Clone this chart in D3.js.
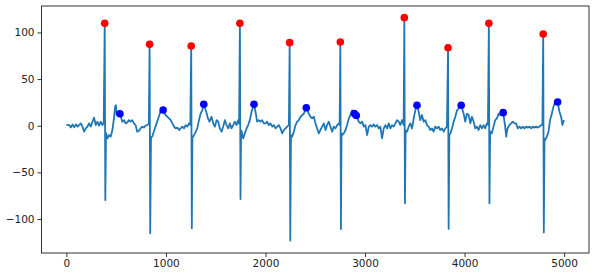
<!DOCTYPE html>
<html>
<head>
<meta charset="utf-8">
<script src="https://cdn.jsdelivr.net/npm/d3@7"></script>
<style>
  html, body { margin: 0; padding: 0; background: #fff; }
  svg { display: block; }
  text { font-family: "DejaVu Sans", sans-serif; }
</style>
</head>
<body>
<svg id="chart" width="598" height="276"></svg>
<script>
// ECG trace: [sample index, amplitude]
const ecgPoints = [
  [0,1],[28,0.7],[45,-1.8],[62,1.4],[78,-1.8],[95,1.4],[112,-1],[128,0.7],[145,2.5],[162,-1],[178,-6.4],[195,-2.9],[212,-1],[228,2.5],[245,-1],[262,4.3],[278,8.6],[295,0.7],[312,4.3],[328,0],[345,4.3],[362,0.7],[375,3],
  [385,109.7],[391,-79.6],
  [398,-8],[412,-13.6],[428,-10],[445,-11.8],[462,-4.6],[478,7.9],[490,20.6],[497,22],[505,12],[520,11],[538,12.9],[562,4.3],[580,6],[595,2.5],[612,3.5],[628,6],[645,4.3],[662,6],[678,2.5],[695,0.7],[712,-6.4],[728,-5.7],[745,-2.9],[762,-1],[778,-2],[795,0],[812,0.7],[828,2],
  [836,87.2],[842,-115.3],
  [850,-12],[862,-11.8],[878,-6.4],[895,-1],[912,4.3],[928,9.6],[945,15],[972,16.8],[995,11.5],[1015,9.6],[1031,7.9],[1048,6],[1065,2.5],[1082,-1],[1098,-2.9],[1115,-2],[1132,-4.6],[1148,-2.9],[1165,-1],[1182,-2.9],[1198,0.7],[1215,-1],[1232,2.5],[1245,1],
  [1254,85.4],[1260,-110],
  [1266,-12],[1272,-11.8],[1292,-8.2],[1315,-2.9],[1332,6],[1348,12.9],[1365,16.5],[1380,23],[1405,15],[1422,7.9],[1438,4.3],[1458,9.6],[1475,2.5],[1492,-1],[1509,6],[1525,4.3],[1542,-2.9],[1559,-6.4],[1575,-1],[1592,6],[1609,0.7],[1626,-2.9],[1642,2.5],[1659,-2.9],[1676,0.7],[1692,4.3],[1709,0.7],[1726,6],[1735,2],
  [1743,109.7],[1749,-78.6],
  [1755,-5],[1761,-6.4],[1776,-13.6],[1793,-8.2],[1810,-2.9],[1826,0.7],[1843,6],[1860,15],[1885,23],[1900,15],[1916,4.3],[1933,6],[1950,4.3],[1966,6],[1983,2.5],[2000,2.5],[2017,4.3],[2033,0.7],[2050,2.5],[2068,-1],[2084,0.7],[2101,-2.9],[2118,-1],[2134,0.7],[2151,-2.9],[2168,-8.2],[2185,-4.6],[2201,-2.9],[2218,-1],[2235,0.7],
  [2243,89],[2249,-123],
  [2256,-10],[2268,-11.8],[2285,-6.4],[2302,0.7],[2318,4.3],[2335,6],[2352,9.6],[2369,11.5],[2385,12.9],[2410,19.3],[2435,12.9],[2452,9.6],[2469,7.9],[2486,9.6],[2502,2.5],[2519,-2.9],[2536,-8.2],[2552,-4.6],[2569,-1],[2586,2.5],[2603,-4.6],[2619,0.7],[2636,4.3],[2653,-1],[2670,-6.4],[2686,-1],[2703,-2.9],[2720,0.7],[2737,2.5],[2745,1],
  [2752,89.7],[2758,-110.7],
  [2764,-8],[2770,-10],[2787,-8.2],[2804,-4.6],[2820,0.7],[2837,7.9],[2854,11.5],[2871,16.5],[2893,13],[2912,11],[2921,9.6],[2937,4.3],[2954,2.5],[2971,4.3],[2988,-1],[3004,0.7],[3021,-10],[3038,-1],[3054,0.7],[3071,-1],[3088,1.4],[3104,-1],[3121,0.7],[3138,-2.9],[3154,-1],[3171,-13.6],[3188,-2.9],[3205,0.7],[3221,-2.9],[3238,2.5],[3255,-2.9],[3271,0.7],[3288,-1],[3305,2.5],[3322,6],[3338,4.3],[3355,0.7],[3372,6],[3388,0.7],
  [3395,115.8],[3401,-83.2],
  [3408,-5],[3422,-6.4],[3438,-1],[3455,2.5],[3472,-2.9],[3489,7.9],[3505,16.5],[3522,21.9],[3539,15],[3555,6],[3572,11.5],[3589,4.3],[3606,6],[3622,0.7],[3639,-1],[3656,-4.6],[3673,-2.9],[3689,-6.4],[3706,-1],[3723,-2.9],[3740,-1],[3756,-4.6],[3773,-2.9],[3790,-6.4],[3807,-2.9],[3823,-1],
  [3834,83.6],[3840,-110.4],
  [3847,-10],[3857,-8.2],[3874,-2.9],[3890,4.3],[3907,9.6],[3924,16.5],[3945,19],[3966,21.9],[3991,12.9],[4007,4.3],[4024,12.9],[4041,11.5],[4058,2.5],[4074,9.6],[4091,4.3],[4108,-2.9],[4124,-1],[4141,-4.6],[4158,0.7],[4175,-2.9],[4191,0.7],[4207,-2.9],[4224,2.5],[4235,1],
  [4244,109.7],[4250,-83.2],
  [4257,-6],[4274,-8.2],[4291,-1],[4308,6],[4325,7.9],[4341,12.9],[4358,11.5],[4388,14],[4408,-1],[4418,-11.8],[4431,-2.9],[4451,0.7],[4468,2.5],[4485,4.3],[4501,2.5],[4518,2.5],[4535,-2.9],[4552,-1],[4568,-2.9],[4585,-1],[4602,-2.9],[4618,-1],[4635,-2],[4652,-1],[4669,-2.9],[4685,-1],[4702,-2],[4719,-1],[4736,-2],[4752,-1],[4769,0.7],[4782,1],
  [4790,98.3],[4796,-114.3],
  [4803,-14],[4809,-15.4],[4826,-11.8],[4843,-6.4],[4859,6],[4876,12.9],[4893,20.2],[4910,25.7],[4935,25.4],[4953,15],[4970,9.6],[4983,0.7],[4999,6]
];

// R peaks (red markers)
const rPeakX = [385, 836, 1254, 1743, 2243, 2752, 3395, 3834, 4244, 4790];
const rPeakY = [109.7, 87.2, 85.4, 109.7, 89, 89.7, 115.8, 83.6, 109.7, 98.3];

// T peaks (blue markers)
const tPeakX = [538, 972, 1380, 1885, 2410, 2893, 2912, 3522, 3966, 4388, 4935];
const tPeakY = [12.9, 16.8, 23, 23, 19.3, 13, 11, 21.9, 21.9, 14, 25.4];

const xTicks = [0, 1000, 2000, 3000, 4000, 5000];
const yTicks = [-100, -50, 0, 50, 100];

(function () {
  const svg = d3.select("#chart");
  const mLeft = 41.5, mRight = 589, mTop = 6, mBottom = 253;

  const x = d3.scaleLinear().domain([-250, 5250]).range([mLeft, mRight]);
  const y = d3.scaleLinear().domain([-136.4, 128.3]).range([mBottom, mTop]);

  svg.append("rect").attr("width", 598).attr("height", 276).attr("fill", "#fff");

  svg.append("clipPath").attr("id", "clip")
    .append("rect").attr("x", mLeft).attr("y", mTop).attr("width", mRight - mLeft).attr("height", mBottom - mTop);

  const line = d3.line().x(d => x(d[0])).y(d => y(d[1]));

  svg.append("path")
    .datum(ecgPoints)
    .attr("clip-path", "url(#clip)")
    .attr("fill", "none")
    .attr("stroke", "#1f77b4")
    .attr("stroke-width", 1.8)
    .attr("stroke-linejoin", "round")
    .attr("d", line);

  svg.append("g").selectAll("circle")
    .data(rPeakX.map((v, i) => [v, rPeakY[i]]))
    .join("circle")
    .attr("cx", d => x(d[0])).attr("cy", d => y(d[1]))
    .attr("r", 3.8).attr("fill", "#ff0000");

  svg.append("g").selectAll("circle")
    .data(tPeakX.map((v, i) => [v, tPeakY[i]]))
    .join("circle")
    .attr("cx", d => x(d[0])).attr("cy", d => y(d[1]))
    .attr("r", 3.8).attr("fill", "#0000ff");

  const fmt = d => (d < 0 ? "\u2212" + Math.abs(d) : String(d));

  const xAxis = svg.append("g")
    .attr("transform", `translate(0,${mBottom})`)
    .call(d3.axisBottom(x).tickValues(xTicks).tickFormat(fmt).tickSize(4).tickPadding(3));
  const yAxis = svg.append("g")
    .attr("transform", `translate(${mLeft},0)`)
    .call(d3.axisLeft(y).tickValues(yTicks).tickFormat(fmt).tickSize(4).tickPadding(3));

  [xAxis, yAxis].forEach(g => {
    g.select(".domain").remove();
    g.selectAll(".tick line").attr("stroke", "#333").attr("stroke-width", 1);
    g.selectAll(".tick text").attr("fill", "#222").style("font-size", "10.5px").style("font-family", "'DejaVu Sans', sans-serif");
  });

  svg.append("rect")
    .attr("x", mLeft).attr("y", mTop)
    .attr("width", mRight - mLeft).attr("height", mBottom - mTop)
    .attr("fill", "none").attr("stroke", "#333").attr("stroke-width", 1);
})();
</script>
</body>
</html>
